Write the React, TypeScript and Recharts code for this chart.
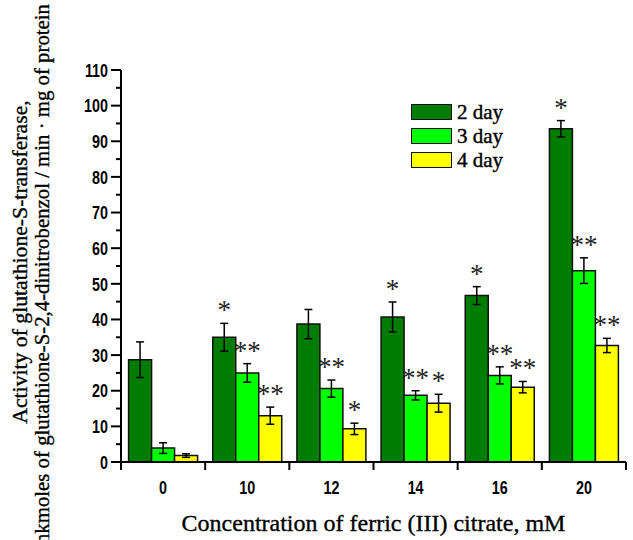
import React from "react";
import {
  BarChart,
  Bar,
  XAxis,
  YAxis,
  ErrorBar,
  LabelList,
  Legend,
  Label,
} from "recharts";

// ferric (III) citrate concentrations, mM
const concentrations = ["0", "10", "12", "14", "16", "20"];

const day2 = [28.7, 35.0, 38.7, 40.7, 46.7, 93.5];
const day2Err = [5.0, 3.9, 4.1, 4.2, 2.5, 2.3];
const day3 = [3.9, 25.0, 20.6, 18.7, 24.3, 53.7];
const day3Err = [1.5, 2.6, 2.4, 1.3, 2.4, 3.6];
const day4 = [1.8, 13.0, 9.3, 16.5, 21.0, 32.7];
const day4Err = [0.5, 2.4, 1.6, 2.5, 1.6, 2.0];

// significance marks
const day2Sig = ["", "*", "", "*", "*", "*"];
const day3Sig = ["", "**", "**", "**", "**", "**"];
const day4Sig = ["", "**", "*", "*", "**", "**"];

const yTicks = [0, 5, 10, 15, 20, 25, 30, 35, 40, 45, 50, 55, 60, 65, 70, 75, 80, 85, 90, 95, 100, 105, 110];

const series = [
  { key: "d2", err: "e2", sig: "s2", name: "2 day", color: "#007d00", vals: day2, errs: day2Err },
  { key: "d3", err: "e3", sig: "s3", name: "3 day", color: "#00ff00", vals: day3, errs: day3Err },
  { key: "d4", err: "e4", sig: "s4", name: "4 day", color: "#ffff00", vals: day4, errs: day4Err },
];

const data = concentrations.map((c, i) => ({
  conc: c,
  mid: i + 0.5,
  d2: day2[i],
  e2: day2Err[i],
  s2: day2Sig[i],
  d3: day3[i],
  e3: day3Err[i],
  s3: day3Sig[i],
  d4: day4[i],
  e4: day4Err[i],
  s4: day4Sig[i],
}));

// ticks on category borders plus a label in the middle of each category
const xTicks = [0, 0.5, 1, 1.5, 2, 2.5, 3, 3.5, 4, 4.5, 5, 5.5, 6];

const serif = "'Liberation Serif', 'Times New Roman', serif";
const sans = "'Liberation Sans', Arial, sans-serif";

function YTick(props: any) {
  const { x, y, payload } = props;
  const v = payload.value;
  const major = v % 10 === 0;
  return (
    <g>
      <line x1={x} x2={x - (major ? 10 : 5)} y1={y} y2={y} stroke="#000" strokeWidth={2} />
      {major && (
        <text
          transform={`translate(${x - 13},${y}) scale(0.77,1)`}
          textAnchor="end"
          dy="0.36em"
          style={{ fontFamily: sans, fontWeight: "bold", fontSize: 18.6 }}
          fill="#000"
        >
          {v}
        </text>
      )}
    </g>
  );
}

function XTick(props: any) {
  const { x, y, payload } = props;
  const v = payload.value;
  if (Number.isInteger(v)) {
    return <line x1={x} x2={x} y1={y} y2={y + 8} stroke="#000" strokeWidth={2} />;
  }
  return (
    <text
      transform={`translate(${x},${y + 25}) scale(0.77,1)`}
      textAnchor="middle"
      dy="0.36em"
      style={{ fontFamily: sans, fontWeight: "bold", fontSize: 18.6 }}
      fill="#000"
    >
      {concentrations[Math.floor(v)]}
    </text>
  );
}

function YTitle(props: any) {
  const vb = props.viewBox || { y: 70, height: 392 };
  const cy = vb.y + vb.height / 2;
  return (
    <g fill="#000" stroke="#000" strokeWidth={0.35}>
      <text
        transform={`translate(27,${cy - 4}) rotate(-90)`}
        textAnchor="middle"
        style={{ fontFamily: serif, fontSize: 21.7 }}
      >
        Activity of glutathione-S-transferase,
      </text>
      <text
        transform={`translate(49,4) rotate(-90)`}
        textAnchor="end"
        style={{ fontFamily: serif, fontSize: 20.8 }}
      >
        mkmoles of glutathione-S-2,4-dinitrobenzol / min · mg of protein
      </text>
    </g>
  );
}

function makeSigLabel(vals: number[], errs: number[]) {
  return (props: any) => {
    const { x, y, width, height, value, index } = props;
    if (!value) return null;
    // pixels per unit from the bar's own height and value
    const ppu = height / vals[index];
    const errTop = y - errs[index] * ppu;
    return (
      <text
        x={x + width / 2}
        y={errTop - 4}
        textAnchor="middle"
        style={{ fontFamily: serif, fontSize: 27 }}
        fill="#222"
      >
        {value}
      </text>
    );
  };
}

function LegendBox() {
  return (
    <div style={{ fontFamily: serif }}>
      {series.map((s) => (
        <div key={s.key} style={{ display: "flex", alignItems: "center", height: 24 }}>
          <div
            style={{
              width: 39,
              height: 14,
              background: s.color,
              border: "1.5px solid #111",
              marginRight: 5,
            }}
          />
          <span
            style={{
              fontSize: 21,
              lineHeight: "24px",
              color: "#000",
              WebkitTextStroke: "0.4px #000",
            }}
          >
            {s.name}
          </span>
        </div>
      ))}
    </div>
  );
}

export default function App() {
  return (
    <div style={{ position: "absolute", left: 0, top: 0, width: 633, height: 540, background: "#fff" }}>
      <BarChart
        width={633}
        height={540}
        data={data}
        margin={{ top: 70, right: 7, bottom: 0, left: 0 }}
        barCategoryGap="9%"
        barGap={0}
      >
        <XAxis xAxisId="cat" dataKey="conc" hide height={0} />
        <XAxis
          xAxisId="edge"
          dataKey="mid"
          type="number"
          domain={[0, 6]}
          allowDataOverflow
          ticks={xTicks}
          interval={0}
          tick={<XTick />}
          tickLine={false}
          tickSize={0}
          tickMargin={0}
          height={78}
          axisLine={{ stroke: "#000", strokeWidth: 2 }}
        >
          <Label
            value="Concentration of ferric (III) citrate, mM"
            position="insideBottom"
            offset={9}
            style={{ fontFamily: serif, fontSize: 24, fill: "#000", stroke: "#000", strokeWidth: 0.35 }}
          />
        </XAxis>
        <YAxis
          domain={[0, 110]}
          ticks={yTicks}
          interval={0}
          width={121}
          tick={<YTick />}
          tickLine={false}
          tickSize={0}
          tickMargin={0}
          axisLine={{ stroke: "#000", strokeWidth: 2 }}
        >
          <Label content={<YTitle />} />
        </YAxis>
        <Legend
          layout="vertical"
          align="center"
          verticalAlign="middle"
          wrapperStyle={{ left: 411, top: 100, width: 120 }}
          content={<LegendBox />}
        />
        {series.map((s) => (
          <Bar
            key={s.key}
            xAxisId="cat"
            dataKey={s.key}
            name={s.name}
            fill={s.color}
            stroke="#111"
            strokeWidth={1.5}
            isAnimationActive={false}
          >
            <ErrorBar dataKey={s.err} width={4} stroke="#000" strokeWidth={1.5} direction="y" />
            <LabelList dataKey={s.sig} content={makeSigLabel(s.vals, s.errs)} />
          </Bar>
        ))}
      </BarChart>
    </div>
  );
}
